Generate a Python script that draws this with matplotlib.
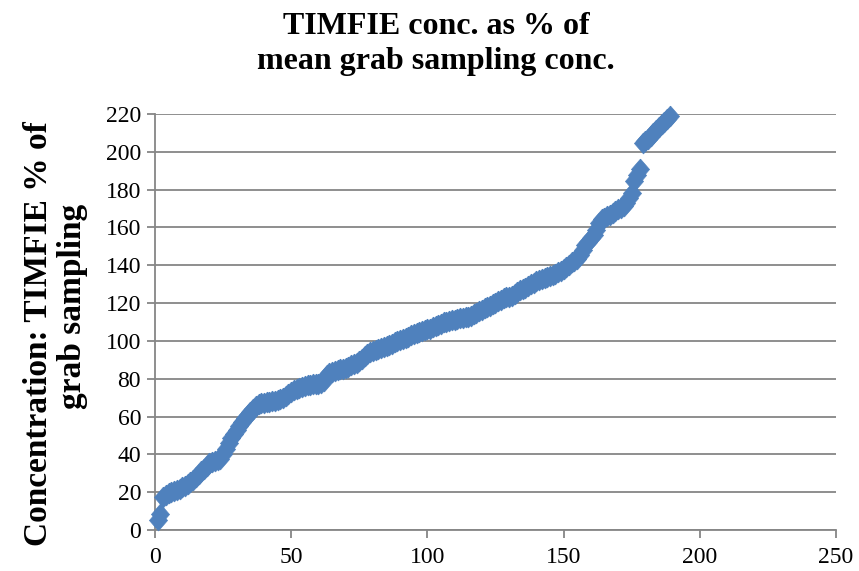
import matplotlib
matplotlib.use("Agg")
import matplotlib.pyplot as plt
import numpy as np

plt.rcParams['font.family'] = ['Liberation Serif', 'DejaVu Serif']

# Sample index (rank) and concentration (% of mean grab sampling)
conc = [
    5.5, 8.5, 17.5, 18.5, 19.5, 20, 20.5, 21, 21.8, 22.5,
    23.5, 24.5, 25.5, 26.5, 28, 29.5, 31, 32.5, 34, 35.5,
    36, 36.5, 37, 37.5, 40, 43, 46, 48.5, 51, 53,
    55, 57, 59, 61, 62.5, 64, 65.5, 66.5, 67, 67.3,
    67.5, 67.8, 68, 68.4, 68.8, 69.2, 70, 71, 72, 73,
    73.8, 74.5, 75, 75.6, 76, 76.5, 76.8, 77, 77.2, 77.4,
    77.6, 79, 82, 83.2, 83.8, 84.2, 84.6, 85, 85.3, 85.6,
    86.2, 87, 87.8, 88.5, 89.2, 90.5, 91.8, 93, 94, 94.8,
    95.2, 95.8, 96.3, 96.8, 97.3, 98, 98.6, 99.3, 100, 100.6,
    101.2, 101.7, 102.3, 103, 103.5, 104, 104.5, 105, 105.6, 106.1,
    106.5, 107.1, 107.8, 108.5, 109.2, 109.8, 110.2, 110.6, 111, 111.3,
    111.6, 111.9, 112.2, 112.5, 112.8, 113.4, 114.2, 115, 115.8, 116.6,
    117.3, 118, 118.7, 119.5, 120.3, 121, 121.8, 122.5, 123, 123.4,
    124, 125, 126, 127, 127.6, 128.2, 129, 130, 130.8, 131.5,
    132, 132.6, 133.2, 133.8, 134.4, 135, 135.6, 136.3, 137, 138,
    139, 140.2, 141.5, 142.5, 143.5, 145.5, 148, 150.5, 152.5, 154.5,
    156, 158.5, 162.5, 164.5, 165.2, 166, 166.8, 167.5, 168.5, 169.5,
    170.5, 171.5, 173, 175.5, 178, 184.5, 188, 191, 204.5, 205.5,
    207, 208.5, 210, 211.5, 213, 214.5, 216, 217.5, 219,
]
rank = list(range(1, len(conc) + 1))

x_ticks = [0, 50, 100, 150, 200, 250]
y_ticks = [0, 20, 40, 60, 80, 100, 120, 140, 160, 180, 200, 220]

title_text = "TIMFIE conc. as % of\nmean grab sampling conc."
ylabel_line1 = "Concentration: TIMFIE % of"
ylabel_line2 = "grab sampling"

W, H = 859, 571
fig = plt.figure(figsize=(W / 100, H / 100), dpi=100)
ax = fig.add_axes([155 / W, 1 - 530 / H, (836 - 155) / W, (530 - 114) / H])

grid_col = '#868686'
ax.set_xlim(0, 250)
ax.set_ylim(0, 220)
ax.set_xticks(x_ticks)
ax.set_yticks(y_ticks)
ax.yaxis.grid(True, color=grid_col, linewidth=1.3)
ax.set_axisbelow(True)
for s in ['top', 'right']:
    ax.spines[s].set_visible(False)
for s in ['left', 'bottom']:
    ax.spines[s].set_color(grid_col)
    ax.spines[s].set_linewidth(1.3)
ax.tick_params(axis='both', direction='out', length=6, width=1.3, color=grid_col,
               labelsize=17, labelcolor='black')
ax.tick_params(axis='x', pad=6)
ax.tick_params(axis='y', pad=4)

diamond = [(0, 1.15), (1, 0), (0, -1.15), (-1, 0), (0, 1.15)]
ax.plot(rank, conc, linestyle='none', marker=diamond, markersize=15,
        color='#4F81BD', markeredgecolor='#4F81BD', markeredgewidth=0.5,
        clip_on=False, zorder=3)

fig.text(436 / W, 1 - 44 / H, title_text, ha='center', va='center',
         fontsize=23, fontweight='bold', linespacing=1.3)
fig.text(39 / W, 1 - 334 / H, ylabel_line1, ha='center', va='center', rotation=90,
         fontsize=24, fontweight='bold')
fig.text(72 / W, 1 - 306 / H, ylabel_line2, ha='center', va='center', rotation=90,
         fontsize=24, fontweight='bold')

fig.savefig('out.png', dpi=100)
